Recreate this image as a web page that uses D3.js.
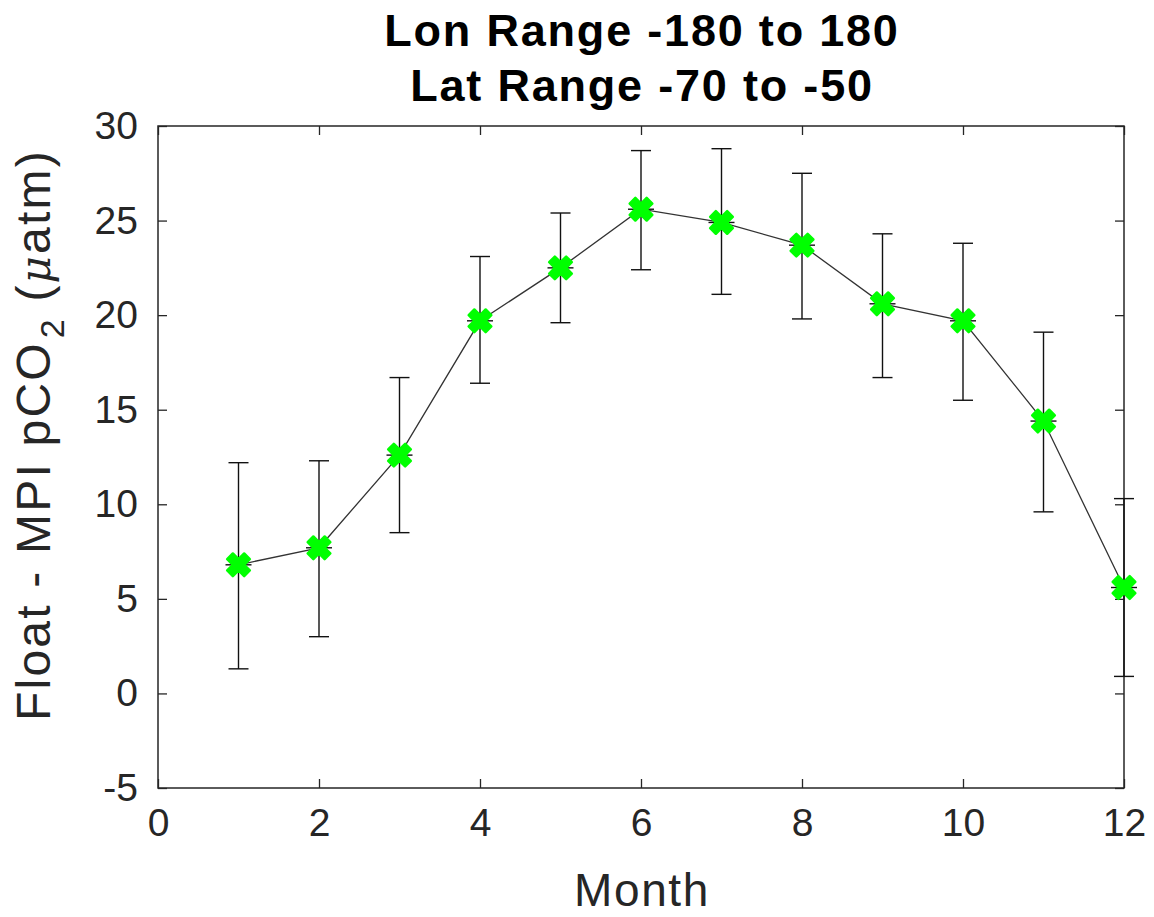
<!DOCTYPE html>
<html lang="en">
<head>
<meta charset="UTF-8">
<title>Float - MPI pCO2 by month</title>
<script src="https://d3js.org/d3.v7.min.js"></script>
<style>
    body { margin: 0; background: #fff; }
    svg text { font-family: "Liberation Sans", Arial, Helvetica, sans-serif; fill: #262626; }
</style>
</head>
<body>
<svg id="chart" width="1154" height="917"></svg>
<script>
    // data
    const months = [1, 2, 3, 4, 5, 6, 7, 8, 9, 10, 11, 12];
    const meanDiff = [6.8, 7.7, 12.6, 19.7, 22.5, 25.6, 24.9, 23.7, 20.6, 19.7, 14.4, 5.6];
    const errLow = [1.3, 3.0, 8.5, 16.4, 19.6, 22.4, 21.1, 19.8, 16.7, 15.5, 9.6, 0.9];
    const errHigh = [12.2, 12.3, 16.7, 23.1, 25.4, 28.7, 28.8, 27.5, 24.3, 23.8, 19.1, 10.3];
    const xTicks = [0, 2, 4, 6, 8, 10, 12];
    const yTicks = [-5, 0, 5, 10, 15, 20, 25, 30];
    const titleLines = ["Lon Range -180 to 180", "Lat Range -70 to -50"];

    const plotL = 158, plotR = 1124, plotT = 126, plotB = 788;
    const axisColor = "#262626";

    const svg = d3.select("#chart");

    const x = d3.scaleLinear().domain([0, 12]).range([plotL, plotR]);
    const y = d3.scaleLinear().domain([-5, 30]).range([plotB, plotT]);

    const plainFmt = d => String(d);  // keep the hyphen, not a unicode minus

    // box with inward ticks on all four sides
    const tickLen = 9;
    svg.append("g")
        .attr("transform", `translate(0,${plotB})`)
        .call(d3.axisBottom(x).tickValues(xTicks).tickFormat(plainFmt).tickSizeInner(-tickLen).tickSizeOuter(0).tickPadding(20))
        .call(g => g.select(".domain").remove())
        .call(g => g.selectAll("line").attr("stroke", axisColor).attr("stroke-width", 1.3))
        .call(g => g.selectAll("text").attr("font-size", 39).attr("fill", axisColor)
            .attr("font-family", "Liberation Sans, Arial, sans-serif"));

    svg.append("g")
        .attr("transform", `translate(0,${plotT})`)
        .call(d3.axisTop(x).tickValues(xTicks).tickSizeInner(-tickLen).tickSizeOuter(0).tickFormat(""))
        .call(g => g.select(".domain").remove())
        .call(g => g.selectAll("line").attr("stroke", axisColor).attr("stroke-width", 1.3));

    svg.append("g")
        .attr("transform", `translate(${plotL},0)`)
        .call(d3.axisLeft(y).tickValues(yTicks).tickFormat(plainFmt).tickSizeInner(-tickLen).tickSizeOuter(0).tickPadding(20))
        .call(g => g.select(".domain").remove())
        .call(g => g.selectAll("line").attr("stroke", axisColor).attr("stroke-width", 1.3))
        .call(g => g.selectAll("text").attr("font-size", 39).attr("fill", axisColor)
            .attr("font-family", "Liberation Sans, Arial, sans-serif"));

    svg.append("g")
        .attr("transform", `translate(${plotR},0)`)
        .call(d3.axisRight(y).tickValues(yTicks).tickSizeInner(-tickLen).tickSizeOuter(0).tickFormat(""))
        .call(g => g.select(".domain").remove())
        .call(g => g.selectAll("line").attr("stroke", axisColor).attr("stroke-width", 1.3));

    svg.append("rect")
        .attr("x", plotL).attr("y", plotT)
        .attr("width", plotR - plotL).attr("height", plotB - plotT)
        .attr("fill", "none")
        .attr("stroke", axisColor)
        .attr("stroke-width", 1.5);

    // connecting line
    const line = d3.line().x((d, i) => x(months[i])).y(d => y(d));
    svg.append("path")
        .datum(meanDiff)
        .attr("d", line)
        .attr("fill", "none")
        .attr("stroke", "#333")
        .attr("stroke-width", 1.3);

    // error bars
    const capW = 10;
    const bars = svg.append("g").attr("stroke", "#111").attr("stroke-width", 1.4);
    months.forEach((m, i) => {
        const cx = x(m);
        bars.append("line").attr("x1", cx).attr("x2", cx).attr("y1", y(errLow[i])).attr("y2", y(errHigh[i]));
        bars.append("line").attr("x1", cx - capW).attr("x2", cx + capW).attr("y1", y(errLow[i])).attr("y2", y(errLow[i]));
        bars.append("line").attr("x1", cx - capW).attr("x2", cx + capW).attr("y1", y(errHigh[i])).attr("y2", y(errHigh[i]));
        // small centre dash behind marker
        bars.append("line").attr("x1", cx - 13).attr("x2", cx + 13).attr("y1", y(meanDiff[i])).attr("y2", y(meanDiff[i]));
    });

    // green markers (thick x shape)
    const marker = d3.symbol().type(d3.symbolCross).size(320);
    svg.append("g")
        .selectAll("path")
        .data(meanDiff)
        .join("path")
        .attr("d", marker)
        .attr("transform", (d, i) => `translate(${x(months[i])},${y(d)}) rotate(45)`)
        .attr("fill", "#00ff00")
        .attr("stroke", "#00ff00")
        .attr("stroke-width", 2.5)
        .attr("stroke-linejoin", "round");

    // title
    svg.append("g")
        .selectAll("text")
        .data(titleLines)
        .join("text")
        .attr("x", (plotL + plotR) / 2 + 1)
        .attr("y", (d, i) => 46 + i * 55)
        .attr("text-anchor", "middle")
        .attr("font-size", 45)
        .attr("font-weight", "bold")
        .attr("letter-spacing", 1.8)
        .style("fill", "#000")
        .text(d => d);

    // axis labels
    svg.append("text")
        .attr("x", (plotL + plotR) / 2 + 1)
        .attr("y", 906)
        .attr("text-anchor", "middle")
        .attr("font-size", 46)
        .attr("letter-spacing", 1.6)
        .text("Month");

    const yl = svg.append("text")
        .attr("transform", `translate(50,435) rotate(-90)`)
        .attr("text-anchor", "middle")
        .attr("font-size", 48)
        .attr("letter-spacing", 2.2);
    yl.append("tspan").text("Float - MPI pCO");
    yl.append("tspan").attr("font-size", 34).attr("dx", 3).attr("dy", 14).text("2");
    yl.append("tspan").attr("dy", -14).text("  (");
    yl.append("tspan").attr("font-style", "italic").attr("font-family", "DejaVu Serif, serif").attr("font-size", 42).text("μ");
    yl.append("tspan").text("atm)");
</script>
</body>
</html>
